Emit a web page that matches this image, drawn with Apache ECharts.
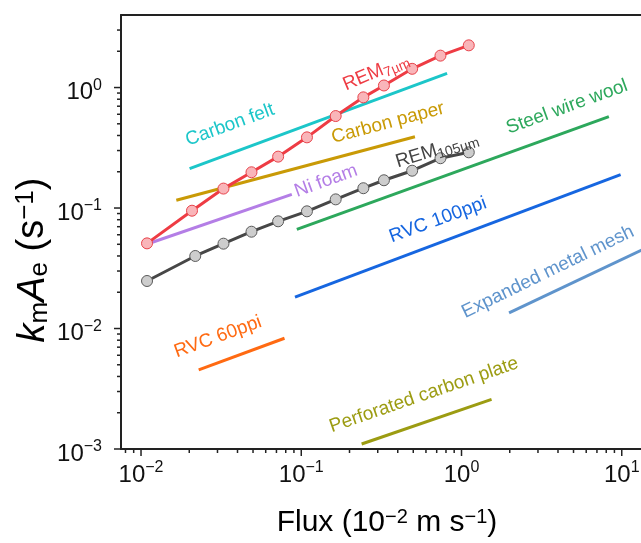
<!DOCTYPE html>
<html>
<head>
<meta charset="utf-8">
<script src="https://cdn.jsdelivr.net/npm/echarts@6/dist/echarts.min.js"></script>
<style>
html,body{margin:0;padding:0;background:#fff;}
#chart{width:641px;height:543px;}
</style>
</head>
<body>
<div id="chart"></div>
<script>
var FONT = '"Liberation Sans", Arial, sans-serif';

// REM electrodes, flux (10^-2 m/s) vs kmAe (1/s)
var rem7X = [0.0109, 0.0208, 0.0327, 0.0489, 0.0717, 0.1085, 0.164, 0.244, 0.328, 0.492, 0.739, 1.11];
var rem7Y = [0.0509, 0.0950, 0.145, 0.198, 0.267, 0.386, 0.580, 0.829, 1.04, 1.43, 1.84, 2.24];
var rem105X = [0.0109, 0.0218, 0.0327, 0.0489, 0.0717, 0.1085, 0.164, 0.244, 0.328, 0.492, 0.739, 1.11];
var rem105Y = [0.0248, 0.0400, 0.0506, 0.0636, 0.0776, 0.0939, 0.118, 0.146, 0.170, 0.204, 0.259, 0.290];

// other electrodes: trend lines, start and end point
var lineNames = ['Carbon felt', 'Carbon paper', 'Ni foam', 'Steel wire wool', 'RVC 100ppi', 'Expanded metal mesh', 'RVC 60ppi', 'Perforated carbon plate'];
var lineX = [[0.0201, 0.813], [0.0166, 0.512], [0.0105, 0.0873], [0.0938, 8.31], [0.0914, 9.84], [1.98, 15], [0.0229, 0.0786], [0.238, 1.54]];
var lineY = [[0.212, 1.31], [0.116, 0.391], [0.0493, 0.130], [0.0666, 0.573], [0.0182, 0.189], [0.0135, 0.0482], [0.00453, 0.0083], [0.0011, 0.00258]];
var lineColors = ['#1cc6c9', '#c99a06', '#b47ee6', '#2da85c', '#1666e0', '#5f94cc', '#ff6a12', '#9c9c12'];

// axes
var X_MIN = 0.0075, X_MAX = 20, Y_MIN = 0.001, Y_MAX = 4;
var xMajorTicks = [0.01, 0.1, 1, 10];
var yMajorTicks = [0.001, 0.01, 0.1, 1];
var minorSteps = [2, 3, 4, 5, 6, 7, 8, 9];

function minorTicks(lo, hi) {
  var out = [];
  for (var e = -4; e <= 2; e++) {
    minorSteps.forEach(function (m) {
      var v = m * Math.pow(10, e);
      if (v > lo * 1.0001 && v < hi * 0.9999) out.push(v);
    });
  }
  return out;
}

function powLabel(v) {
  var e = Math.log10(v);
  var r = Math.round(e);
  if (Math.abs(e - r) > 1e-6) return '';
  return '{b|10}{s|' + (r < 0 ? '\u2212' + (-r) : r) + '}';
}

var labelRich = {
  b: {fontSize: 24, fontFamily: FONT, color: '#111', padding: [10, 0, 0, 0]},
  s: {fontSize: 16, fontFamily: FONT, color: '#111', padding: [0, 0, 4, 0]}
};

function tickSeries(values, axis, len) {
  return {
    type: 'custom',
    silent: true,
    clip: false,
    z: 5,
    data: values.map(function (v) { return axis === 'x' ? [v, Y_MIN] : [X_MIN, v]; }),
    renderItem: function (params, api) {
      var p = api.coord([api.value(0), api.value(1)]);
      var shape = axis === 'x'
        ? {x1: p[0], y1: p[1], x2: p[0], y2: p[1] + len}
        : {x1: p[0], y1: p[1], x2: p[0] - len, y2: p[1]};
      return {type: 'line', shape: shape, style: {stroke: '#222', lineWidth: 1.5}};
    }
  };
}

function zip(xs, ys) {
  return xs.map(function (x, i) { return [x, ys[i]]; });
}

var series = [];
lineNames.forEach(function (name, i) {
  series.push({
    name: name,
    type: 'line',
    data: zip(lineX[i], lineY[i]),
    symbol: 'none',
    lineStyle: {color: lineColors[i], width: 3},
    z: 2
  });
});
series.push({
  name: 'REM105',
  type: 'line',
  data: zip(rem105X, rem105Y),
  symbol: 'circle',
  symbolSize: 11,
  lineStyle: {color: '#474747', width: 3},
  itemStyle: {color: '#cdcdcd', borderColor: '#5a5a5a', borderWidth: 1},
  z: 3
});
series.push({
  name: 'REM7',
  type: 'line',
  data: zip(rem7X, rem7Y),
  symbol: 'circle',
  symbolSize: 11,
  lineStyle: {color: '#ee3c44', width: 3},
  itemStyle: {color: '#f9b5b9', borderColor: '#e8434b', borderWidth: 1},
  z: 4
});
series.push(tickSeries(xMajorTicks, 'x', 7));
series.push(tickSeries(minorTicks(X_MIN, X_MAX), 'x', 4));
series.push(tickSeries(yMajorTicks, 'y', 7));
series.push(tickSeries(minorTicks(Y_MIN, Y_MAX), 'y', 4));

// annotation text: [text, x, y, angle, color]
var notes = [
  ['Carbon felt', 230, 125, 20, lineColors[0]],
  ['Carbon paper', 388, 123, 15, lineColors[1]],
  ['Ni foam', 326, 181, 20, lineColors[2]],
  ['Steel wire wool', 567, 107, 20, lineColors[3]],
  ['RVC 100ppi', 438, 220, 20, lineColors[4]],
  ['Expanded metal mesh', 548, 272, 26, lineColors[5]],
  ['RVC 60ppi', 218, 337, 20, lineColors[6]],
  ['Perforated carbon plate', 424, 395, 19, lineColors[7]],
  ['{a|REM}{b|7\u00b5m}', 376, 72, 23, '#ee3c44'],
  ['{a|REM}{b|105\u00b5m}', 437, 150, 17, '#444444']
];

var graphics = notes.map(function (n) {
  return {
    type: 'text',
    x: n[1], y: n[2],
    rotation: n[3] * Math.PI / 180,
    z: 10,
    style: {
      text: n[0],
      fill: n[4],
      font: '19px ' + FONT,
      align: 'center',
      verticalAlign: 'middle',
      rich: {
        a: {fontSize: 19, fontFamily: FONT, fill: n[4], color: n[4]},
        b: {fontSize: 14, fontFamily: FONT, fill: n[4], color: n[4], padding: [10, 0, 0, 0]}
      }
    }
  };
});

graphics.push({
  type: 'text', x: 387, y: 523, z: 10,
  style: {
    text: '{n|Flux (10}{p|\u22122}{n| m s}{p|\u22121}{n|)}',
    align: 'center', verticalAlign: 'middle',
    rich: {
      n: {fontSize: 30, fontFamily: FONT, color: '#111'},
      p: {fontSize: 20, fontFamily: FONT, color: '#111', padding: [0, 0, 12, 0]}
    }
  }
});
graphics.push({
  type: 'text', x: 33, y: 260, z: 10,
  rotation: Math.PI / 2,
  style: {
    text: '{i|k}{d|m}{i|A}{d|e}{n| (s}{p|\u22121}{n|)}',
    align: 'center', verticalAlign: 'middle',
    rich: {
      i: {fontSize: 38, fontFamily: FONT, fontStyle: 'italic', color: '#111'},
      n: {fontSize: 38, fontFamily: FONT, color: '#111'},
      d: {fontSize: 26, fontFamily: FONT, color: '#111', padding: [13, 0, 0, 0]},
      p: {fontSize: 26, fontFamily: FONT, color: '#111', padding: [0, 0, 15, 0]}
    }
  }
});

var chart = echarts.init(document.getElementById('chart'));
chart.setOption({
  animation: false,
  backgroundColor: '#fff',
  grid: {left: 121, top: 15, width: 549, height: 434, outerBoundsMode: 'none', containLabel: false},
  xAxis: [{
    type: 'log', logBase: 10, min: X_MIN, max: X_MAX,
    axisLine: {onZero: false, lineStyle: {color: '#222', width: 2}},
    axisTick: {show: false},
    splitLine: {show: false},
    axisLabel: {margin: 4, formatter: powLabel, rich: labelRich}
  }, {
    type: 'log', logBase: 10, min: X_MIN, max: X_MAX, position: 'top',
    axisLine: {onZero: false, lineStyle: {color: '#222', width: 2}},
    axisTick: {show: false}, axisLabel: {show: false}, splitLine: {show: false}
  }],
  yAxis: {
    type: 'log', logBase: 10, min: Y_MIN, max: Y_MAX,
    axisLine: {onZero: false, lineStyle: {color: '#222', width: 2}},
    axisTick: {show: false},
    splitLine: {show: false},
    axisLabel: {margin: 19, formatter: powLabel, rich: labelRich}
  },
  series: series,
  graphic: graphics
});
</script>
</body>
</html>
